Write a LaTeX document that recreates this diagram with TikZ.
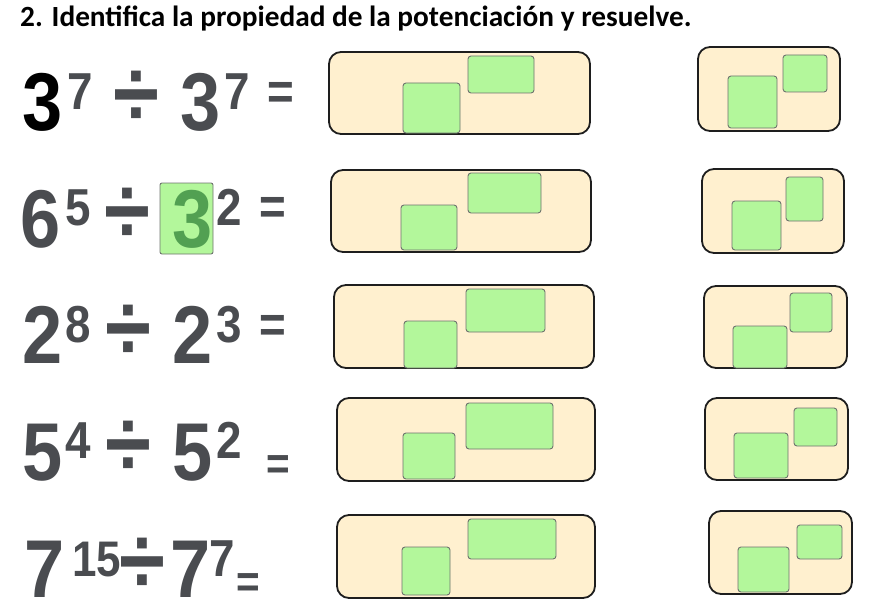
\documentclass[tikz,border=0pt]{standalone}
\usepackage{fontspec}
\setmainfont{Carlito}
\newfontfamily\numfont{Liberation Sans}[FakeStretch=0.88]
\usetikzlibrary{positioning}
\definecolor{cream}{RGB}{255,240,207}
\definecolor{boxgreen}{RGB}{179,247,155}
\definecolor{greenline}{RGB}{110,115,110}
\definecolor{boxline}{RGB}{30,30,30}
\definecolor{numgray}{RGB}{74,76,80}
\definecolor{numgreen}{RGB}{82,160,82}
\begin{document}
\begin{tikzpicture}[
    x=1pt, y=-1pt,
    every node/.style={inner sep=0pt, anchor=base},
    title/.style={
        font=\bfseries\fontsize{29.3}{33}\selectfont,
        anchor=base west
    },
    bignum/.style={
        font=\numfont\bfseries\fontsize{82}{82}\selectfont,
        text=numgray
    },
    supnum/.style={
        font=\numfont\bfseries\fontsize{52}{52}\selectfont,
        text=numgray
    },
    divsign/.style={
        font=\numfont\bfseries\fontsize{95}{95}\selectfont,
        text=numgray
    },
    eqsign/.style={
        font=\numfont\bfseries\fontsize{52}{52}\selectfont,
        text=numgray
    },
    ansbox/.style={
        draw=boxline,
        fill=cream,
        line width=1.8pt,
        rounded corners=12pt
    },
    greenbox/.style={
        draw=greenline,
        fill=boxgreen,
        line width=0.9pt,
        rounded corners=3pt
    }
]
    \useasboundingbox (0,0) rectangle (885,615);
    % 标题
    \node [title] (titulo) at (20,27) {2. Identifica la propiedad de la potenciación y resuelve.};
    % 第一行
    \node [bignum, text=black] (b1a) at (43,130) {3};
    \node [supnum] (e1a) at (80.5,110) {7};
    \node [divsign] (d1) at (136,127) {÷};
    \node [bignum] (b1b) at (201,130) {3};
    \node [supnum] (e1b) at (237.5,110) {7};
    \node [eqsign] (q1) at (280.5,109.5) {=};
    \draw [ansbox] (329,52) rectangle (590,134);
    \draw [greenbox] (403,83) rectangle (460,133);
    \draw [greenbox] (468,56) rectangle (534,93);
    \draw [ansbox] (698,47) rectangle (840,131);
    \draw [greenbox] (728,76) rectangle (777,128);
    \draw [greenbox] (783,55) rectangle (827,92);
    % 第二行
    \node [bignum] (b2a) at (41,247) {6};
    \node [supnum] (e2a) at (78.5,225) {5};
    \node [divsign] (d2) at (127.5,243) {÷};
    \draw [greenbox, rounded corners=2pt] (160,183) rectangle (213,254);
    \node [bignum, text=numgreen] (b2b) at (192.5,247) {3};
    \node [supnum] (e2b) at (229.5,225) {2};
    \node [eqsign] (q2) at (272.5,224) {=};
    \draw [ansbox] (331,170) rectangle (591,252);
    \draw [greenbox] (401,205) rectangle (457,250);
    \draw [greenbox] (468,173) rectangle (541,213);
    \draw [ansbox] (702,169) rectangle (844,253);
    \draw [greenbox] (732,201) rectangle (781,250);
    \draw [greenbox] (786,177) rectangle (823,221);
    % 第三行
    \node [bignum] (b3a) at (42.5,363) {2};
    \node [supnum] (e3a) at (78.5,342) {8};
    \node [divsign] (d3) at (128,360) {÷};
    \node [bignum] (b3b) at (193,363) {2};
    \node [supnum] (e3b) at (229.5,342) {3};
    \node [eqsign] (q3) at (272.5,342.5) {=};
    \draw [ansbox] (334,285) rectangle (594,368);
    \draw [greenbox] (404,321) rectangle (457,368);
    \draw [greenbox] (466,289) rectangle (545,332);
    \draw [ansbox] (704,286) rectangle (847,368);
    \draw [greenbox] (733,326) rectangle (787,368);
    \draw [greenbox] (790,293) rectangle (832,332);
    % 第四行
    \node [bignum] (b4a) at (43,480) {5};
    \node [supnum] (e4a) at (78.5,458) {4};
    \node [divsign] (d4) at (128,476) {÷};
    \node [bignum] (b4b) at (193,480) {5};
    \node [supnum] (e4b) at (229.5,458) {2};
    \node [eqsign, font=\numfont\bfseries\fontsize{46}{46}\selectfont] (q4) at (278,479) {=};
    \draw [ansbox] (337,398) rectangle (595,481);
    \draw [greenbox] (403,433) rectangle (455,479);
    \draw [greenbox] (466,403) rectangle (553,449);
    \draw [ansbox] (705,398) rectangle (848,480);
    \draw [greenbox] (734,433) rectangle (788,478);
    \draw [greenbox] (794,408) rectangle (837,446);
    % 第五行
    \node [bignum] (b5a) at (45,597) {7};
    \node [supnum, font=\numfont\bfseries\fontsize{50}{50}\selectfont] (e5a) at (96.5,576) {15};
    \node [divsign] (d5) at (142.5,593) {÷};
    \node [bignum] (b5b) at (190.5,597) {7};
    \node [supnum] (e5b) at (222.5,576) {7};
    \node [eqsign, font=\numfont\bfseries\fontsize{46}{46}\selectfont] (q5) at (248.5,597.5) {=};
    \draw [ansbox] (337,515) rectangle (595,598);
    \draw [greenbox] (402,547) rectangle (450,595);
    \draw [greenbox] (468,519) rectangle (556,559);
    \draw [ansbox] (709,511) rectangle (852,594);
    \draw [greenbox] (738,547) rectangle (789,592);
    \draw [greenbox] (797,525) rectangle (842,559);
\end{tikzpicture}
\end{document}
